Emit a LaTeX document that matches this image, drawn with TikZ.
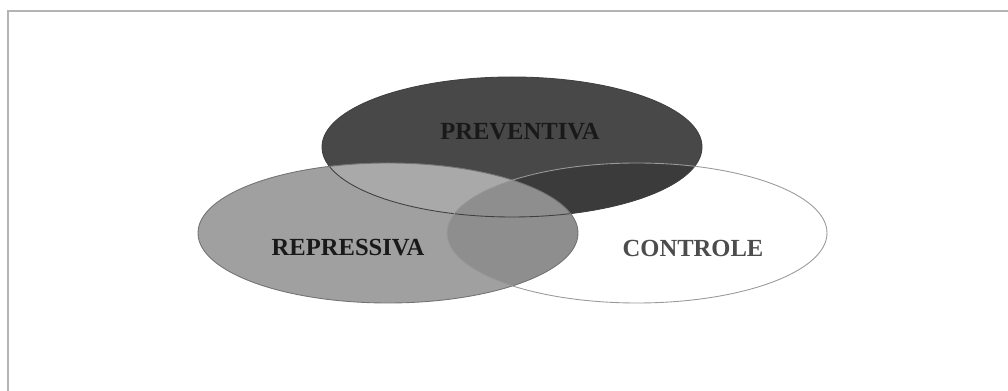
\documentclass[tikz,border=0pt]{standalone}
\usepackage{fontspec}
\setmainfont{Liberation Serif}
\definecolor{prevfill}{HTML}{484848}
\definecolor{repfill}{HTML}{A0A0A0}
\definecolor{preprep}{HTML}{A9A9A9}
\definecolor{prevctrl}{HTML}{3B3B3B}
\definecolor{repctrl}{HTML}{8E8E8E}
\definecolor{framegray}{HTML}{B4B4B4}
\tikzset{
  vennlabel/.style={font=\bfseries\fontsize{14}{16}\selectfont, text=black!90},
  vennedge/.style={line width=0.5pt}
}
\newcommand{\prevshape}{(512,147) ellipse (190 and 70)}
\newcommand{\repshape}{(388,233) ellipse (190 and 70)}
\newcommand{\ctrlshape}{(637,233) ellipse (190 and 70)}

\begin{document}
\begin{tikzpicture}[x=0.02cm,y=-0.02cm]
\useasboundingbox (0,0) rectangle (1008,391);
% frame
\draw[framegray, line width=0.8pt] (8,391) -- (8,11) -- (1008,11);

% fills
\fill[prevfill] \prevshape;
\fill[repfill] \repshape;
\begin{scope}
  \clip \prevshape;
  \fill[preprep] \repshape;
\end{scope}
\begin{scope}
  \clip \prevshape;
  \fill[prevctrl] \ctrlshape;
\end{scope}
\begin{scope}
  \clip \repshape;
  \fill[repctrl] \ctrlshape;
\end{scope}

% outlines
\draw[vennedge, black!75] \prevshape;
\draw[vennedge, black!55] \repshape;
\draw[vennedge, black!40] \ctrlshape;

% labels
\node[vennlabel] (prevlabel) at (520,132) {PREVENTIVA};
\node[vennlabel] (replabel) at (348,248) {REPRESSIVA};
\node[vennlabel, text=black!70] (ctrllabel) at (693,248) {CONTROLE};
\end{tikzpicture}
\end{document}
